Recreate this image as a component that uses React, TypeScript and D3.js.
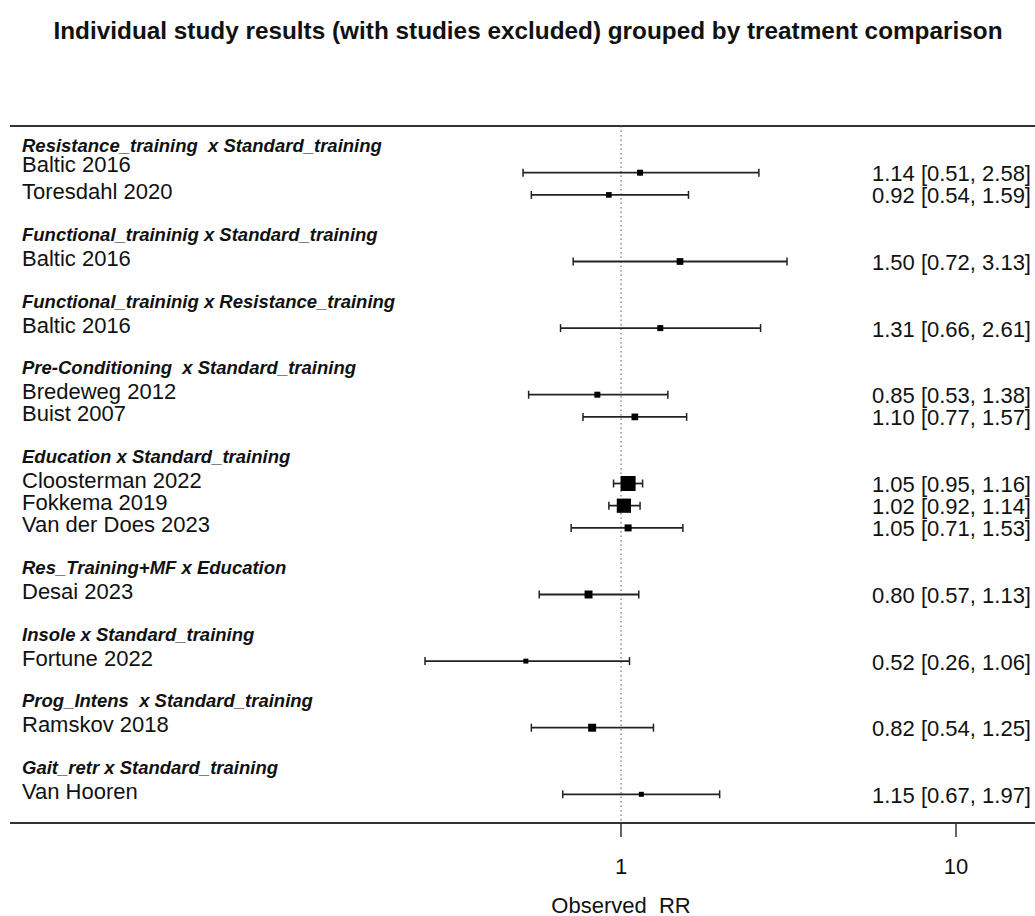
import * as d3 from "d3";

const groups = [
  "Resistance_training  x Standard_training",
  "Functional_traininig x Standard_training",
  "Functional_traininig x Resistance_training",
  "Pre-Conditioning  x Standard_training",
  "Education x Standard_training",
  "Res_Training+MF x Education",
  "Insole x Standard_training",
  "Prog_Intens  x Standard_training",
  "Gait_retr x Standard_training",
];

const studies = [
  "Baltic 2016",
  "Toresdahl 2020",
  "Baltic 2016",
  "Baltic 2016",
  "Bredeweg 2012",
  "Buist 2007",
  "Cloosterman 2022",
  "Fokkema 2019",
  "Van der Does 2023",
  "Desai 2023",
  "Fortune 2022",
  "Ramskov 2018",
  "Van Hooren",
];
const studyGroup = [0, 0, 1, 2, 3, 3, 4, 4, 4, 5, 6, 7, 8];
const rr = [1.14, 0.92, 1.5, 1.31, 0.85, 1.1, 1.05, 1.02, 1.05, 0.8, 0.52, 0.82, 1.15];
const lower = [0.51, 0.54, 0.72, 0.66, 0.53, 0.77, 0.95, 0.92, 0.71, 0.57, 0.26, 0.54, 0.67];
const upper = [2.58, 1.59, 3.13, 2.61, 1.38, 1.57, 1.16, 1.14, 1.53, 1.13, 1.06, 1.25, 1.97];
// relative weight
const weight = [16, 14, 20, 16, 16, 20, 100, 90, 22, 28, 11, 28, 11];

const tickValues = [1, 10];

const W = 1035;
const H = 916;
const FONT = "'Liberation Sans', Arial, sans-serif";

// row index of every study: one row apart inside a group, three between groups
const rows: number[] = [];
studies.forEach((_, i) => {
  if (i === 0) rows.push(0);
  else rows.push(rows[i - 1] + (studyGroup[i] === studyGroup[i - 1] ? 1 : 3));
});
const lastRow = rows[rows.length - 1];

const x = d3.scaleLog().domain([1, 10]).range([621, 956]);
const y = d3.scaleLinear().domain([0, lastRow]).range([172.7, 794.3]);
const side = d3.scaleSqrt().domain([0, 100]).range([0, 15]);

const topY = 126;
const axisY = 823;

export default function App() {
  const fmt = d3.format(".2f");
  const firstOfGroup = groups.map((_, g) => studyGroup.indexOf(g));

  return (
    <svg
      width={W}
      height={H}
      style={{ position: "absolute", left: 0, top: 0, background: "#fff" }}
      fontFamily={FONT}
    >
      <text
        x={528}
        y={30}
        textAnchor="middle"
        dominantBaseline="central"
        fontSize={24}
        fontWeight="bold"
        textLength={949}
        lengthAdjust="spacingAndGlyphs"
        fill="#111"
      >
        Individual study results (with studies excluded) grouped by treatment comparison
      </text>

      {/* top and bottom rules */}
      <line x1={10} x2={W} y1={topY} y2={topY} stroke="#333" strokeWidth={2} />
      <line x1={10} x2={W} y1={axisY} y2={axisY} stroke="#333" strokeWidth={2} />

      {/* reference line at RR = 1 */}
      <line
        x1={x(1)}
        x2={x(1)}
        y1={topY}
        y2={axisY}
        stroke="#555"
        strokeWidth={1}
        strokeDasharray="1.5 3"
      />

      {/* group headers */}
      {groups.map((g, i) => (
        <text
          key={"g" + i}
          x={22}
          y={y(rows[firstOfGroup[i]]) - 27}
          dominantBaseline="central"
          fontSize={18.5}
          fontWeight="bold"
          fontStyle="italic"
          fill="#111"
          style={{ whiteSpace: "pre" }}
        >
          {g}
        </text>
      ))}

      {/* studies */}
      {studies.map((s, i) => {
        const cy = y(rows[i]);
        const sz = side(weight[i]);
        return (
          <g key={"s" + i}>
            <text
              x={22}
              y={cy - (i === 0 ? 8 : 3)}
              dominantBaseline="central"
              fontSize={22}
              fill="#111"
            >
              {s}
            </text>
            <line x1={x(lower[i])} x2={x(upper[i])} y1={cy} y2={cy} stroke="#222" strokeWidth={1.8} />
            <line x1={x(lower[i])} x2={x(lower[i])} y1={cy - 4} y2={cy + 4} stroke="#222" strokeWidth={1.5} />
            <line x1={x(upper[i])} x2={x(upper[i])} y1={cy - 4} y2={cy + 4} stroke="#222" strokeWidth={1.5} />
            <rect x={x(rr[i]) - sz / 2} y={cy - sz / 2} width={sz} height={sz} fill="#000" />
            <text
              x={1031}
              y={cy + 1}
              textAnchor="end"
              dominantBaseline="central"
              fontSize={22}
              fill="#111"
            >
              {`${fmt(rr[i])} [${fmt(lower[i])}, ${fmt(upper[i])}]`}
            </text>
          </g>
        );
      })}

      {/* x axis */}
      {tickValues.map((t) => (
        <g key={"t" + t}>
          <line x1={x(t)} x2={x(t)} y1={axisY} y2={axisY + 14} stroke="#333" strokeWidth={1.5} />
          <text x={x(t)} y={866} textAnchor="middle" dominantBaseline="central" fontSize={22} fill="#111">
            {d3.format("d")(t)}
          </text>
        </g>
      ))}
      <text
        x={x(1)}
        y={905}
        textAnchor="middle"
        dominantBaseline="central"
        fontSize={22}
        fill="#111"
        style={{ whiteSpace: "pre" }}
      >
        Observed  RR
      </text>
    </svg>
  );
}
